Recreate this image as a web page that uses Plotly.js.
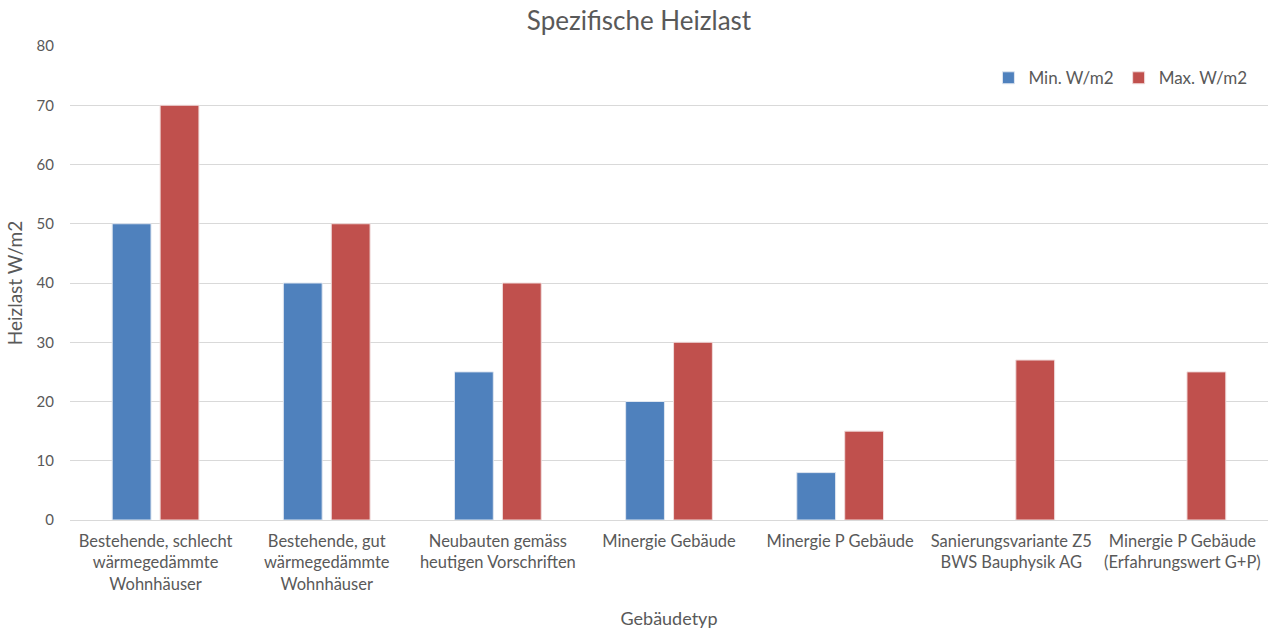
<!DOCTYPE html>
<html><head><meta charset="utf-8">
<script src="https://cdn.plot.ly/plotly-3.0.1.min.js"></script>
<style>html,body{margin:0;padding:0;background:#fff}#chart{width:1278px;height:629px}</style>
</head><body><div id="chart"></div>
<script>
const categories = [
  "Bestehende, schlecht<br>wärmegedämmte<br>Wohnhäuser",
  "Bestehende, gut<br>wärmegedämmte<br>Wohnhäuser",
  "Neubauten gemäss<br>heutigen Vorschriften",
  "Minergie Gebäude",
  "Minergie P Gebäude",
  "Sanierungsvariante Z5<br>BWS Bauphysik AG",
  "Minergie P Gebäude<br>(Erfahrungswert G+P)"
];
const minValues = [50, 40, 25, 20, 8, null, null];
const maxValues = [70, 50, 40, 30, 15, 27, 25];
const yTicks = [0, 10, 20, 30, 40, 50, 60, 70, 80];

const font = "Lato, 'Open Sans', sans-serif";
const txt = "#595959";

const data = [
  {type:"bar", name:"Min. W/m2", x:categories, y:minValues,
   marker:{color:"#4F81BD", line:{color:"#dfe6f0", width:1}}},
  {type:"bar", name:"Max. W/m2", x:categories, y:maxValues,
   marker:{color:"#C0504D", line:{color:"#f0dcdc", width:1}}}
];
const layout = {
  width:1278, height:629,
  margin:{l:70, r:10, t:46, b:109},
  paper_bgcolor:"#fff", plot_bgcolor:"#fff",
  font:{family:font, color:txt, size:14},
  title:{text:"Spezifische Heizlast", font:{size:26, color:txt, family:font}, x:0.5, xanchor:"center", y:0.967, yanchor:"middle"},
  barmode:"group", bargap:0.44, bargroupgap:0.19,
  xaxis:{title:{text:"Gebäudetyp", font:{size:18, color:txt}, standoff:22},
    tickfont:{size:16.5, color:txt}, showline:true, linecolor:"#d9d9d9", linewidth:1, ticks:"", ticklabelstandoff:6, automargin:false},
  yaxis:{title:{text:"Heizlast W/m2", font:{size:19, color:txt}, standoff:8},
    range:[0,80], tickvals:yTicks, ticktext:yTicks.map(String), tickfont:{size:15, color:txt},
    gridcolor:"#d9d9d9", gridwidth:1, zeroline:false, showline:false, ticks:"outside", ticklen:12, tickcolor:"#fff", automargin:false},
  legend:{orientation:"h", x:0.987, xanchor:"right", y:0.932, yanchor:"middle",
    font:{size:17, color:txt}, itemwidth:30, traceorder:"normal"},
  showlegend:true
};
Plotly.newPlot("chart", data, layout, {displayModeBar:false, staticPlot:true});
</script></body></html>
